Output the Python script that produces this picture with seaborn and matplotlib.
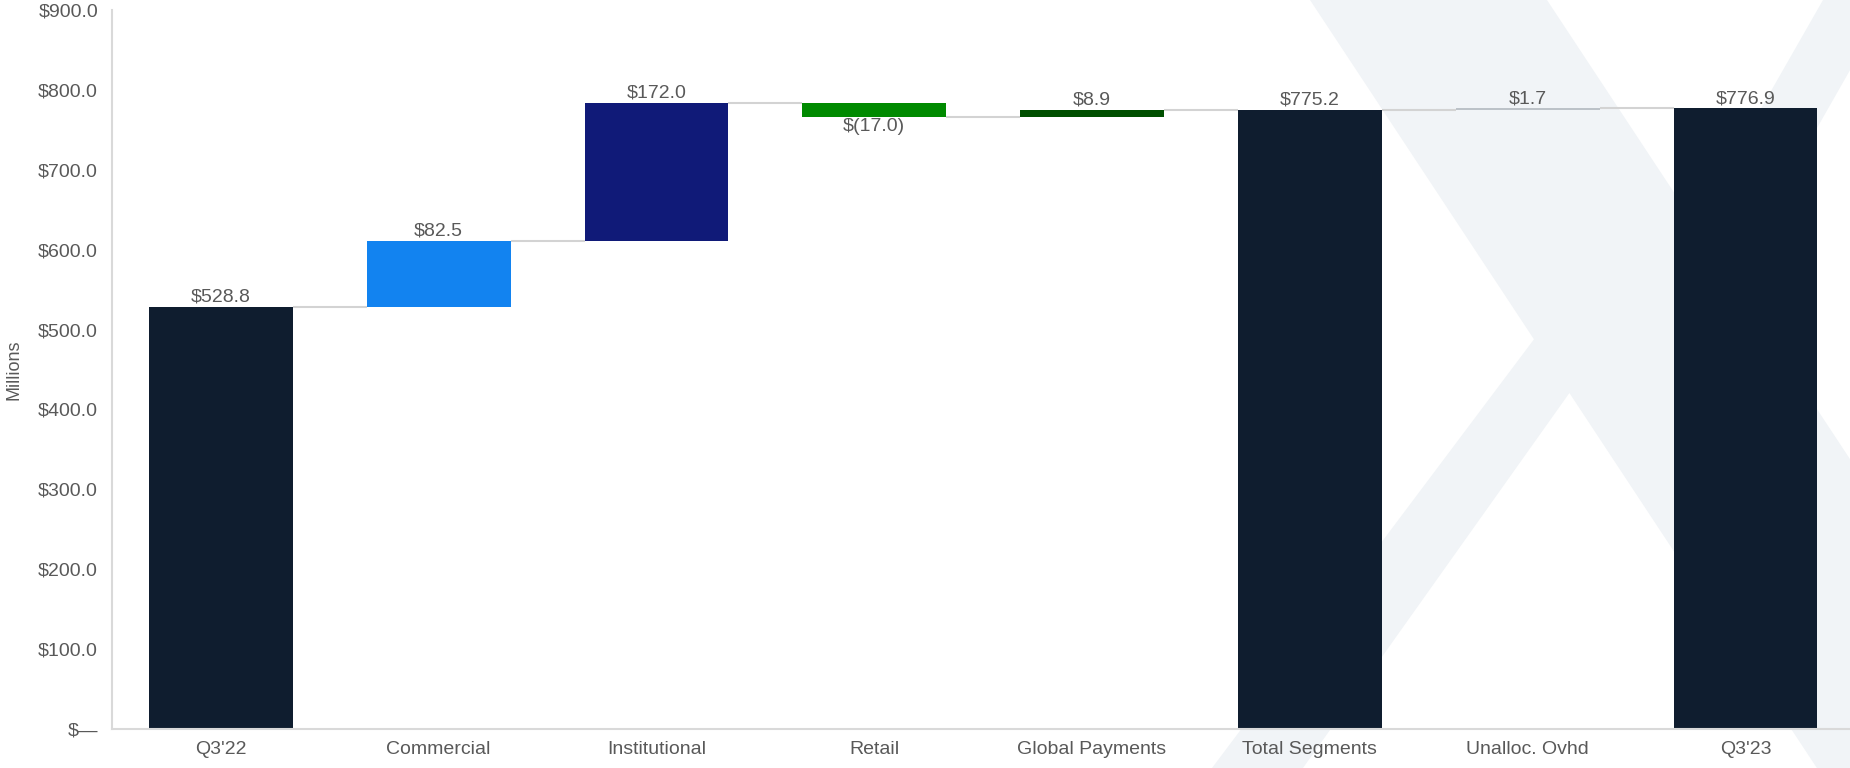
import numpy as np
import pandas as pd
import matplotlib
matplotlib.use("Agg")
import matplotlib.pyplot as plt
import seaborn as sns
from matplotlib.patches import Polygon

# ---------------- data ----------------
categories = ["Q3'22", "Commercial", "Institutional", "Retail", "Global Payments",
              "Total Segments", "Unalloc. Ovhd", "Q3'23"]
values = [528.8, 82.5, 172.0, -17.0, 8.9, 775.2, 1.7, 776.9]
is_total = [True, False, False, False, False, True, False, True]
value_labels = ["$528.8", "$82.5", "$172.0", "$(17.0)", "$8.9", "$775.2", "$1.7", "$776.9"]
bar_colors = ["#0F1D2F", "#1283F0", "#101A78", "#008A00", "#004F00",
              "#0F1D2F", "#BCC2C8", "#0F1D2F"]
y_ticks = [0, 100, 200, 300, 400, 500, 600, 700, 800, 900]
y_tick_labels = ["$\u2014", "$100.0", "$200.0", "$300.0", "$400.0", "$500.0",
                 "$600.0", "$700.0", "$800.0", "$900.0"]
y_label = "Millions"

# running totals for the waterfall
bottoms, heights, levels = [], [], []
level = 0.0
for v, t in zip(values, is_total):
    if t:
        bottoms.append(0.0)
        level = v
    else:
        bottoms.append(level)
        level = level + v
    heights.append(v)
    levels.append(level)

df = pd.DataFrame({"category": categories, "height": heights})

# ---------------- style ----------------
sns.set_theme(style="white")
plt.rcParams["font.family"] = ["Liberation Sans", "DejaVu Sans"]
TXT = "#595959"
GRID = "#D9D9D9"

fig = plt.figure(figsize=(18.5, 7.68), dpi=100)
fig.patch.set_facecolor("white")

# background watermark (large faint X)
bg = fig.add_axes([0, 0, 1, 1], zorder=0)
bg.set_xlim(0, 1850)
bg.set_ylim(768, 0)
bg.axis("off")
wm = "#F1F4F7"
shapes = [
    [(1310, 0), (1547, 0), (1547 + 0.66 * 768, 768), (1310 + 0.66 * 768, 768)],
    [(1601, 250), (1671, 250), (1303, 768), (1212, 768)],
    [(1823, 0), (1890, 0), (1731, 279), (1695, 224)],
]
for pts in shapes:
    bg.add_patch(Polygon(pts, closed=True, facecolor=wm, edgecolor="none"))

# main axes
ax = fig.add_axes([0.0605, 0.0508, 0.9395, 0.936], zorder=1)
ax.patch.set_alpha(0)

sns.barplot(data=df, x="category", y="height", order=categories,
            bottom=bottoms, color=bar_colors[0], saturation=1,
            width=0.66, errorbar=None, ax=ax, zorder=2)
for patch, c in zip(ax.patches, bar_colors):
    patch.set_facecolor(c)
    patch.set_edgecolor("none")

# connectors
half = 0.33
for i in range(len(categories) - 1):
    ax.plot([i + half, i + 1 - half], [levels[i], levels[i]],
            color="#D3D3D3", lw=1.5, zorder=1.5, solid_capstyle="butt")

# value labels
for i, (b, h, lab) in enumerate(zip(bottoms, heights, value_labels)):
    if h < 0:
        ax.annotate(lab, (i, b + h), xytext=(0, -1), textcoords="offset points",
                    ha="center", va="top", fontsize=14, color=TXT)
    else:
        ax.annotate(lab, (i, b + h), xytext=(0, 1), textcoords="offset points",
                    ha="center", va="bottom", fontsize=14, color=TXT)

ax.set_xlim(-0.5, 7.48)
ax.set_ylim(0, 900)
ax.set_yticks(y_ticks)
ax.set_yticklabels(y_tick_labels)
ax.set_xlabel("")
ax.set_ylabel(y_label, fontsize=13, color=TXT)
ax.yaxis.label.set_verticalalignment("center")
ax.yaxis.set_label_coords(-0.0564, 0.5)
ax.tick_params(axis="y", length=0, labelsize=14, labelcolor=TXT, pad=10)
ax.tick_params(axis="x", length=0, labelsize=14, labelcolor=TXT, pad=9)
for s in ["top", "right"]:
    ax.spines[s].set_visible(False)
for s in ["left", "bottom"]:
    ax.spines[s].set_color(GRID)
    ax.spines[s].set_linewidth(1.5)

fig.savefig("out.png", dpi=100)
